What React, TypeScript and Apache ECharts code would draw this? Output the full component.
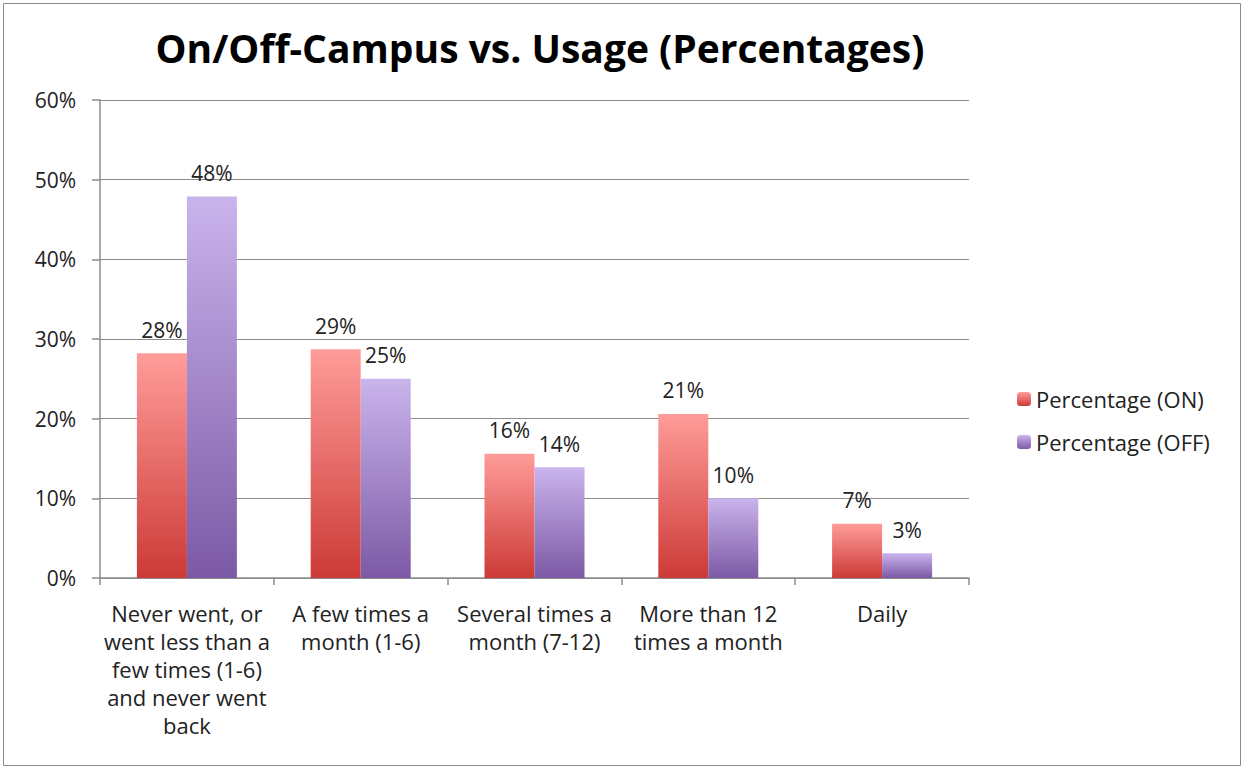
import React, { useEffect, useRef } from "react";
import * as echarts from "echarts";

const categories = [
  "Never went, or\nwent less than a\nfew times (1-6)\nand never went\nback",
  "A few times a\nmonth (1-6)",
  "Several times a\nmonth (7-12)",
  "More than 12\ntimes a month",
  "Daily",
];
const seriesNames = ["Percentage (ON)", "Percentage (OFF)"];
const onValues = [28.2, 28.7, 15.6, 20.6, 6.8];
const offValues = [47.9, 25.0, 13.9, 10.0, 3.1];
const yTicks = [0, 10, 20, 30, 40, 50, 60];

const FONT = "'Open Sans', Lato, sans-serif";

export default function App() {
  const ref = useRef<HTMLDivElement>(null);
  useEffect(() => {
    document.body.style.margin = "0";
    if (!ref.current) return;
    const chart = echarts.init(ref.current, null, { renderer: "svg" });
    const grad = (a: string, b: string) =>
      new echarts.graphic.LinearGradient(0, 0, 0, 1, [
        { offset: 0, color: a },
        { offset: 1, color: b },
      ]);
    const label = {
      show: true,
      position: "top" as const,
      distance: 13,
      fontSize: 21,
      fontFamily: FONT,
      color: "#222",
      formatter: (p: any) => Math.round(p.value) + "%",
    };
    chart.setOption({
      animation: false,
      backgroundColor: "#fff",
      textStyle: { fontFamily: FONT },
      title: {
        text: "On/Off-Campus vs. Usage (Percentages)",
        left: 535,
        textAlign: "center",
        top: 23,
        textStyle: { fontSize: 39, fontWeight: "bold", color: "#000", fontFamily: FONT },
      },
      graphic: [
        {
          type: "rect",
          shape: { x: 3.5, y: 3.5, width: 1237, height: 762 },
          style: { fill: "none", stroke: "#8a8a8a", lineWidth: 1 },
          silent: true,
        },
      ],
      legend: {
        orient: "vertical",
        left: 1012,
        top: 383,
        itemWidth: 14,
        itemHeight: 14,
        itemGap: 21,
        textStyle: { fontSize: 22, color: "#222", fontFamily: FONT },
        data: seriesNames,
      },
      grid: { left: 100, right: 276, top: 100, bottom: 191 },
      xAxis: {
        type: "category",
        data: categories,
        axisLine: { lineStyle: { color: "#8c8c8c", width: 1.5 } },
        axisTick: { show: true, length: 7, interval: 0, lineStyle: { color: "#8c8c8c", width: 1.5 } },
        axisLabel: {
          interval: 0,
          margin: 21,
          fontSize: 22,
          lineHeight: 28,
          color: "#222",
          fontFamily: FONT,
        },
      },
      yAxis: {
        type: "value",
        min: yTicks[0],
        max: yTicks[yTicks.length - 1],
        interval: 10,
        axisLine: { show: true, lineStyle: { color: "#8c8c8c", width: 1.5 } },
        axisTick: { show: true, length: 8, lineStyle: { color: "#8c8c8c", width: 1.5 } },
        axisLabel: {
          margin: 24,
          fontSize: 21,
          color: "#222",
          fontFamily: FONT,
          formatter: (v: number) => v + "%",
        },
        splitLine: { show: true, lineStyle: { color: "#8c8c8c", width: 1.2 } },
      },
      series: [
        {
          name: seriesNames[0],
          type: "bar",
          data: onValues,
          barWidth: 50,
          barGap: "0%",
          itemStyle: { color: grad("#FF9C99", "#CC3A37") },
          label,
        },
        {
          name: seriesNames[1],
          type: "bar",
          data: offValues,
          barWidth: 50,
          barGap: "0%",
          itemStyle: { color: grad("#CAB4EC", "#7C59A5") },
          label,
        },
      ],
    });
    return () => chart.dispose();
  }, []);
  return <div ref={ref} style={{ width: 1245, height: 769 }} />;
}
